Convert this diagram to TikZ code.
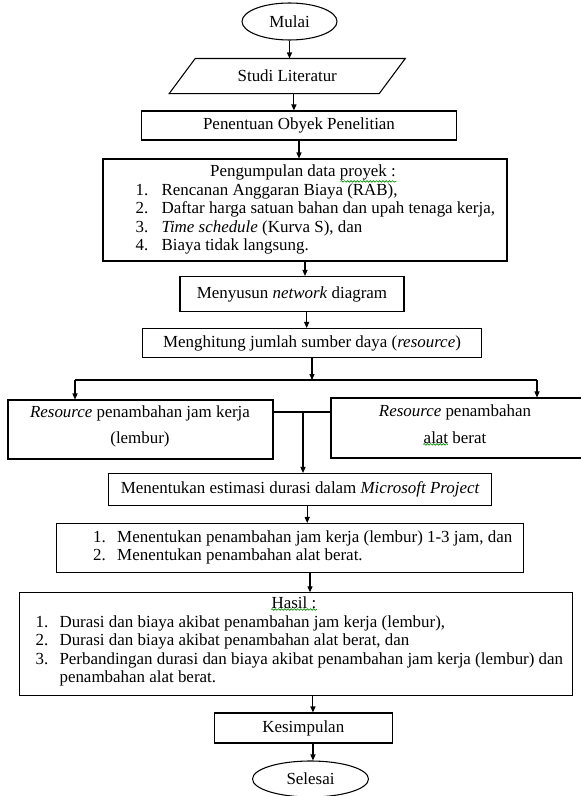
\documentclass[tikz,border=0pt]{standalone}
\usepackage{fontspec}
\setmainfont{Liberation Serif}
\usetikzlibrary{shapes.geometric,arrows.meta,decorations.pathmorphing}
\tikzset{
  box/.style={draw, rectangle, inner sep=0pt, font=\fontsize{12.7}{14}\selectfont},
  term/.style={draw, ellipse, inner sep=0pt, font=\fontsize{12.7}{14}\selectfont},
  txt/.style={inner sep=0pt, font=\fontsize{12.7}{14}\selectfont},
  ltxt/.style={txt, anchor=mid west},
  ctxt/.style={txt, anchor=mid},
  arr/.style={-{Triangle[length=4.5pt,width=3.8pt]}},
  squig/.style={draw=green!55!black, line width=0.5pt, decorate, decoration={snake, amplitude=0.6pt, segment length=2.4pt}}
}
\begin{document}
\begin{tikzpicture}[x=0.75pt,y=-0.75pt, line width=0.8pt]
\path[use as bounding box] (0,0) rectangle (581,796);

\node[term, minimum width=71.25pt, minimum height=27.75pt] (mulai) at (289.5,21.5) {Mulai};
\node[box, draw=none, minimum width=156.75pt, minimum height=25.5pt] (studi) at (287.25,76) {Studi Literatur};
\draw ([xshift=9.75pt]studi.north west) -- ([xshift=9.75pt]studi.north east) -- ([xshift=-9.75pt]studi.south east) -- ([xshift=-9.75pt]studi.south west) -- cycle;
\node[box, minimum width=236.25pt, minimum height=21.75pt] (pen) at (299,125.5) {Penentuan Obyek Penelitian};

\node[box, minimum width=303pt, minimum height=76.5pt] (kumpul) at (305,210) {};
\node[ctxt] (kt) at (303,173.5) {Pengumpulan data proyek :};
\node[ltxt] (k1n) at (135,192) {1.};
\node[ltxt] (k1) at (161,192) {Rencanan Anggaran Biaya (RAB),};
\node[ltxt] (k2n) at (135,210.5) {2.};
\node[ltxt] (k2) at (161,210.5) {Daftar harga satuan bahan dan upah tenaga kerja,};
\node[ltxt] (k3n) at (135,229) {3.};
\node[ltxt] (k3) at (161,229) {\textit{Time schedule} (Kurva S), dan};
\node[ltxt] (k4n) at (135,247.5) {4.};
\node[ltxt] (k4) at (161,247.5) {Biaya tidak langsung.};

\node[box, minimum width=168pt, minimum height=26.25pt] (susun) at (292,294) {Menyusun \textit{network} diagram};
\node[box, minimum width=254.25pt, minimum height=21.75pt] (hitung) at (312,343) {Menghitung jumlah sumber daya (\textit{resource})};

\coordinate (split) at (312,380);
\coordinate (hl) at (75,380);
\coordinate (hr) at (537,380);
\node[box, minimum width=198.75pt, minimum height=44.25pt] (lembur) at (140.5,429.5) {};
\node[ctxt] (lb1) at (140,414) {\textit{Resource} penambahan jam kerja};
\node[ctxt] (lb2) at (140,440) {(lembur)};
\node[box, minimum width=195pt, minimum height=45pt] (alat) at (461,428) {};
\node[ctxt] (al1) at (455,413) {\textit{Resource} penambahan};
\node[ctxt] (al2) at (455,440) {alat berat};
\coordinate (j) at (303,412);

\node[box, minimum width=287.25pt, minimum height=24pt] (estim) at (300.2,489.5) {Menentukan estimasi durasi dalam \textit{Microsoft Project}};

\node[box, minimum width=350.25pt, minimum height=36.75pt] (tambah) at (290,548) {};
\node[ltxt] (t1n) at (92.6,539.5) {1.};
\node[ltxt] (t1) at (116.7,539.5) {Menentukan penambahan jam kerja (lembur) 1-3 jam, dan};
\node[ltxt] (t2n) at (92.6,557) {2.};
\node[ltxt] (t2) at (116.7,557) {Menentukan penambahan alat berat.};

\node[box, minimum width=414.75pt, minimum height=77.25pt] (hasil) at (295.6,644.3) {};
\node[ctxt] (ht) at (294,605) {Hasil :};
\node[ltxt] (h1n) at (35,624) {1.};
\node[ltxt] (h1) at (59,624) {Durasi dan biaya akibat penambahan jam kerja (lembur),};
\node[ltxt] (h2n) at (35,642.5) {2.};
\node[ltxt] (h2) at (59,642.5) {Durasi dan biaya akibat penambahan alat berat, dan};
\node[ltxt] (h3n) at (35,661) {3.};
\node[ltxt] (h3) at (59,661) {Perbandingan durasi dan biaya akibat penambahan jam kerja (lembur) dan};
\node[ltxt] (h4) at (59,679.5) {penambahan alat berat.};

\node[box, minimum width=133.875pt, minimum height=22.5pt] (simpul) at (303.3,728) {Kesimpulan};
\node[term, minimum width=87pt, minimum height=27pt] (selesai) at (310.5,779) {Selesai};

\draw[squig] ([xshift=-42pt,yshift=-0.5pt]kt.south east) -- ([yshift=-0.5pt]kt.south east);
\draw[squig] ([yshift=-0.5pt]al2.south west) -- ([xshift=18.5pt,yshift=-0.5pt]al2.south west);
\draw[squig] ([yshift=-0.5pt]ht.south west) -- ([yshift=-0.5pt]ht.south east);

\draw[arr] (mulai.south) -- (mulai.south |- studi.north);
\draw[arr] ([xshift=5pt]studi.south) -- ([xshift=5pt]studi.south |- pen.north);
\draw[arr] (pen.south) -- (pen.south |- kumpul.north);
\draw[arr] (kumpul.south) -- (kumpul.south |- susun.north);
\draw[arr] ([xshift=11pt]susun.south) -- ([xshift=11pt]susun.south |- hitung.north);
\draw[arr] (hitung.south) -- (split);
\draw (hl) -- (hr);
\draw[arr] (hl) -- (hl |- lembur.north);
\draw[arr] (hr) -- (hr |- alat.north);
\draw (lembur.east |- j) -- (alat.west |- j);
\draw[arr] (j) -- (j |- estim.north);
\draw[arr] ([xshift=5.25pt]estim.south) -- ([xshift=5.25pt]estim.south |- tambah.north);
\draw[arr] ([xshift=15pt]tambah.south) -- ([xshift=15pt]tambah.south |- hasil.north);
\draw[arr] ([xshift=13pt]hasil.south) -- ([xshift=13pt]hasil.south |- simpul.north);
\draw[arr] ([xshift=7.25pt]simpul.south) -- ([xshift=7.25pt]simpul.south |- selesai.north);
\end{tikzpicture}
\end{document}
